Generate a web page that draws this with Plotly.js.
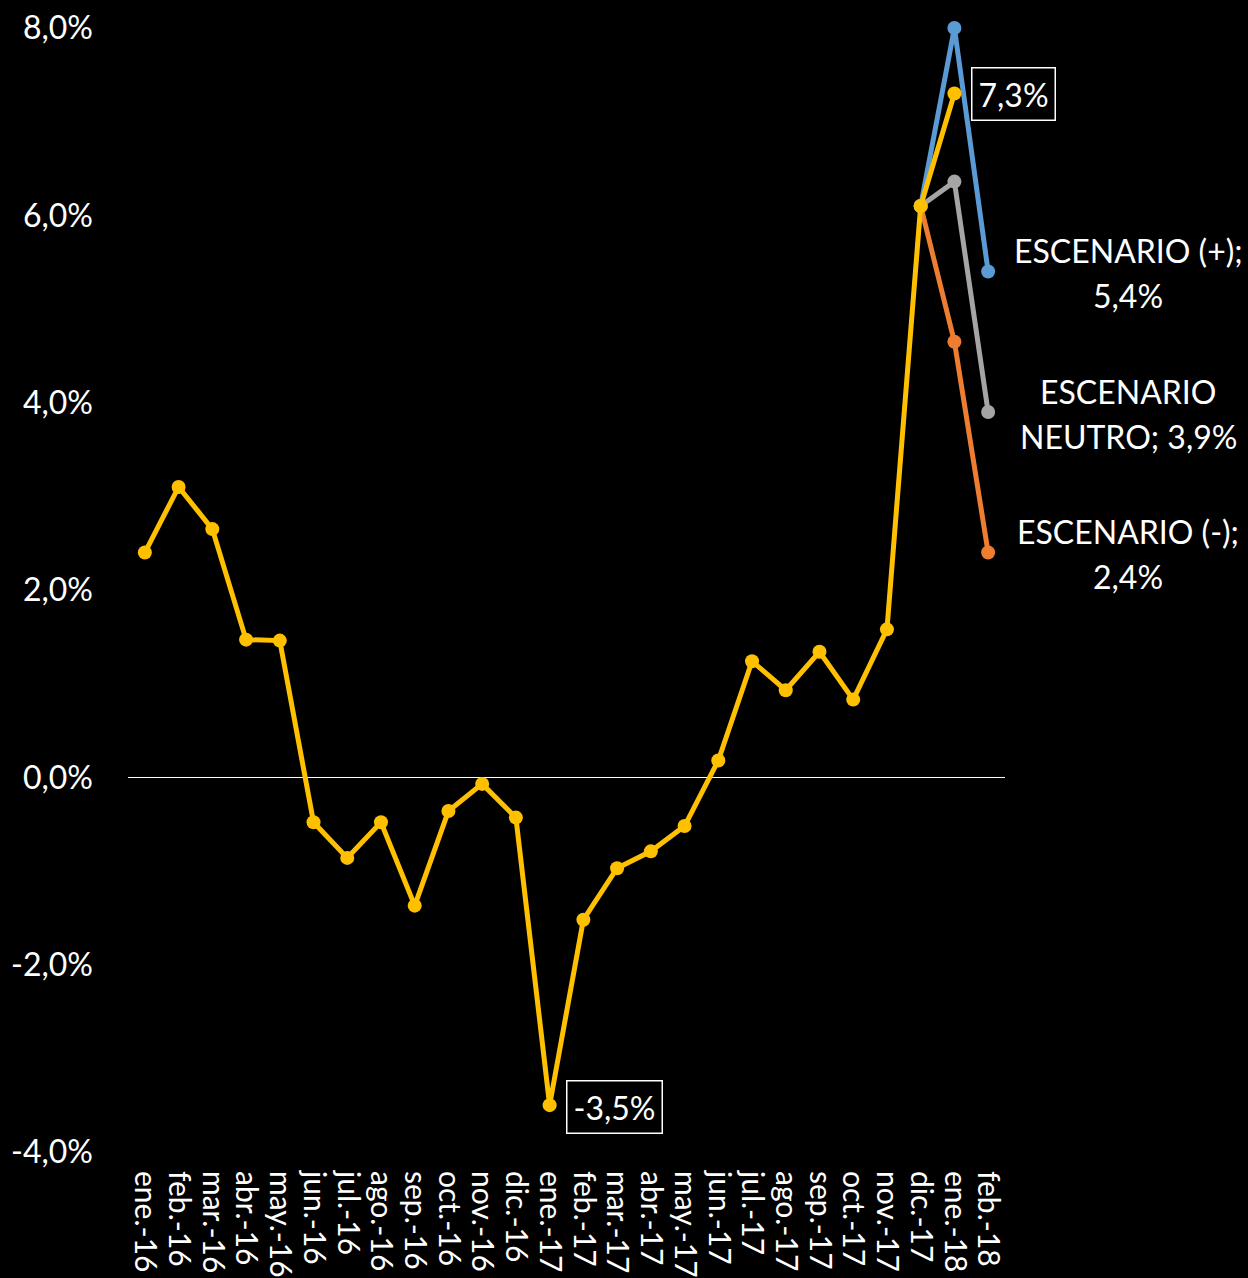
<!DOCTYPE html>
<html>
<head>
<meta charset="utf-8">
<script src="https://cdn.plot.ly/plotly-3.0.1.min.js"></script>
<style>
  html, body { margin: 0; padding: 0; background: #000; }
  #chart { width: 1248px; height: 1278px; }
</style>
</head>
<body>
<div id="chart"></div>
<script>
const categories = ['ene.-16','feb.-16','mar.-16','abr.-16','may.-16','jun.-16','jul.-16','ago.-16','sep.-16','oct.-16','nov.-16','dic.-16',
  'ene.-17','feb.-17','mar.-17','abr.-17','may.-17','jun.-17','jul.-17','ago.-17','sep.-17','oct.-17','nov.-17','dic.-17',
  'ene.-18','feb.-18'];
const historico = [2.4, 3.1, 2.65, 1.47, 1.46, -0.48, -0.86, -0.48, -1.37, -0.36, -0.07, -0.43,
  -3.5, -1.52, -0.97, -0.79, -0.52, 0.18, 1.24, 0.93, 1.34, 0.83, 1.58, 6.1, 7.3];
const scenarioCats = ['dic.-17', 'ene.-18', 'feb.-18'];
const escenarioPos = [6.1, 8.0, 5.4];
const escenarioNeutro = [6.1, 6.36, 3.9];
const escenarioNeg = [6.1, 4.65, 2.4];
const tickVals = [-4, -2, 0, 2, 4, 6, 8];
const tickLabels = ['-4,0%', '-2,0%', '0,0%', '2,0%', '4,0%', '6,0%', '8,0%'];

const fmt = v => v.toFixed(1).replace('.', ',') + '%';
const FONT = 'Lato, "Open Sans", sans-serif';

function line(xs, ys, color) {
  return {
    x: xs, y: ys, type: 'scatter', mode: 'lines+markers',
    line: { color: color, width: 5 },
    marker: { color: color, size: 14 },
    cliponaxis: false,
    hoverinfo: 'skip', showlegend: false
  };
}

const traces = [
  line(scenarioCats, escenarioNeg, '#ED7D31'),
  line(scenarioCats, escenarioNeutro, '#A5A5A5'),
  line(scenarioCats, escenarioPos, '#5B9BD5'),
  line(categories.slice(0, historico.length), historico, '#FFC000')
];

const minIdx = historico.indexOf(Math.min(...historico));
const lastIdx = historico.length - 1;
const lastCat = scenarioCats[scenarioCats.length - 1];

const annFont = { family: FONT, size: 32, color: '#FFFFFF' };
function scenarioLabel(line1, line2, yVal) {
  return [
    { x: lastCat, y: yVal, xref: 'x', yref: 'y', text: line1, showarrow: false,
      xshift: 140, yshift: 21, font: annFont, xanchor: 'center', yanchor: 'middle' },
    { x: lastCat, y: yVal, xref: 'x', yref: 'y', text: line2, showarrow: false,
      xshift: 140, yshift: -24, font: annFont, xanchor: 'center', yanchor: 'middle' }
  ];
}

const annotations = [
  { x: categories[lastIdx], y: historico[lastIdx], xref: 'x', yref: 'y', text: fmt(historico[lastIdx]),
    showarrow: false, xshift: 59, font: annFont, bordercolor: '#FFFFFF', borderwidth: 1.5,
    borderpad: 6, bgcolor: '#000000' },
  { x: categories[minIdx], y: historico[minIdx], xref: 'x', yref: 'y', text: fmt(historico[minIdx]),
    showarrow: false, xshift: 65, yshift: -2, font: annFont, bordercolor: '#FFFFFF', borderwidth: 1.5,
    borderpad: 6, bgcolor: '#000000' },
  ...scenarioLabel('ESCENARIO (+);', fmt(escenarioPos[2]), escenarioPos[2]),
  ...scenarioLabel('ESCENARIO', 'NEUTRO; ' + fmt(escenarioNeutro[2]), escenarioNeutro[2]),
  ...scenarioLabel('ESCENARIO (-);', fmt(escenarioNeg[2]), escenarioNeg[2])
];

const layout = {
  width: 1248, height: 1278,
  paper_bgcolor: '#000000', plot_bgcolor: '#000000',
  margin: { l: 128, r: 243, t: 28, b: 126 },
  font: { family: FONT, color: '#FFFFFF', size: 30 },
  showlegend: false,
  xaxis: {
    type: 'category', categoryorder: 'array', categoryarray: categories,
    range: [-0.5, categories.length - 0.5],
    tickmode: 'linear', tick0: 0, dtick: 1,
    showgrid: false, zeroline: false, showline: false,
    tickangle: 90, ticks: '', ticklabelstandoff: 18,
    tickfont: { family: FONT, size: 30, color: '#FFFFFF' }
  },
  yaxis: {
    range: [-4, 8], tickvals: tickVals, ticktext: tickLabels,
    showgrid: false, showline: false, ticks: '',
    zeroline: true, zerolinecolor: '#FFFFFF', zerolinewidth: 1.5,
    ticklabelstandoff: 34,
    tickfont: { family: FONT, size: 32, color: '#FFFFFF' }
  },
  annotations: annotations
};

Plotly.newPlot('chart', traces, layout, { displayModeBar: false, staticPlot: true });
</script>
</body>
</html>
